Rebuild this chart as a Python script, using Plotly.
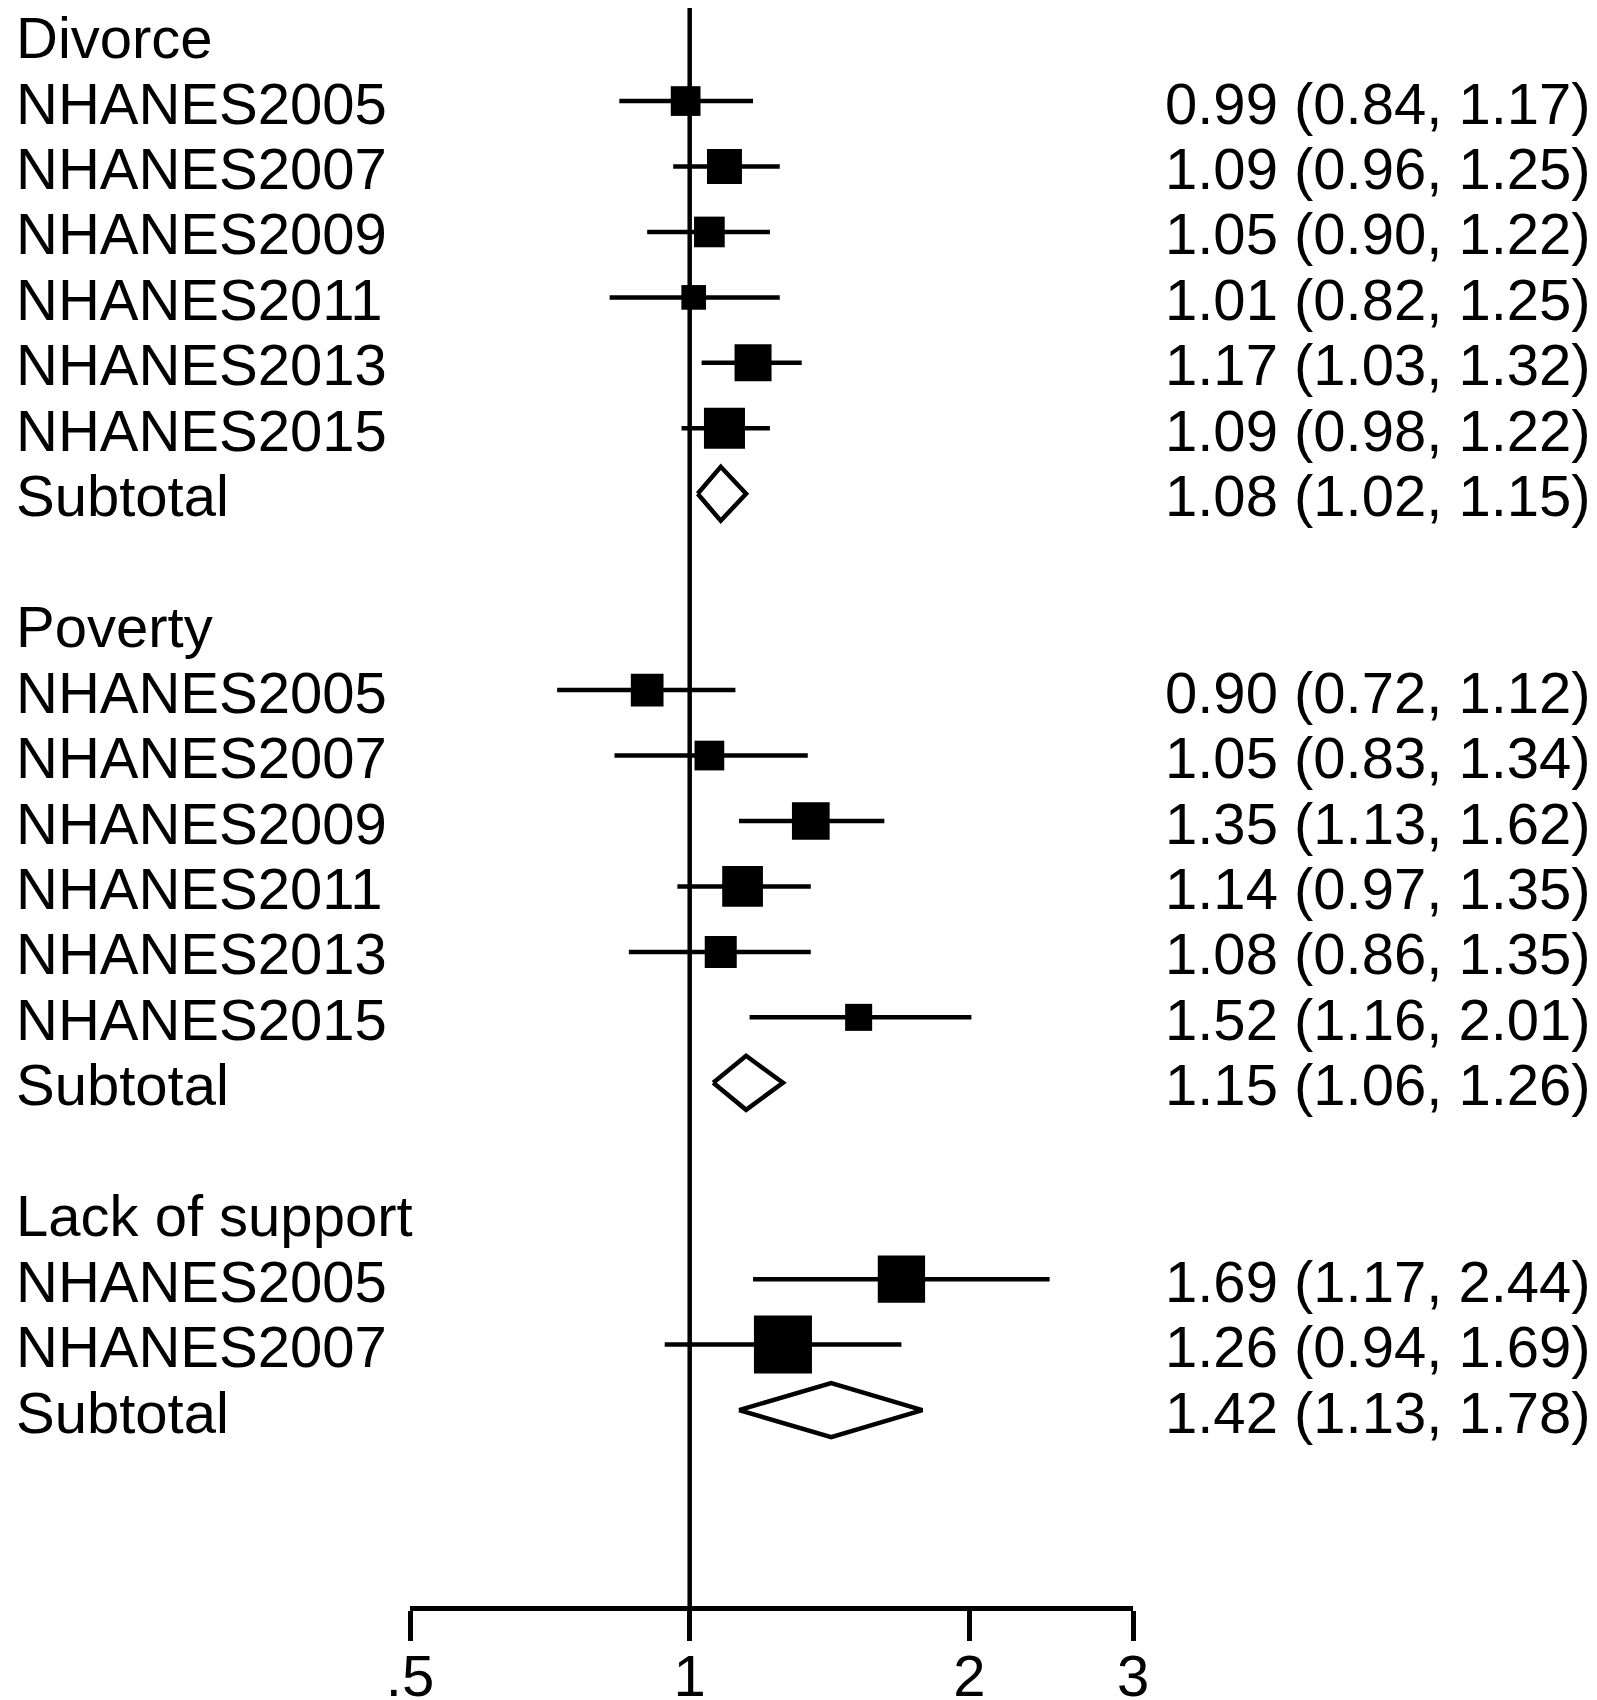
import math
import plotly.graph_objects as go

# ---------------- data ----------------
group_names = ["Divorce", "Poverty", "Lack of support"]

divorce_studies = ["NHANES2005", "NHANES2007", "NHANES2009", "NHANES2011", "NHANES2013", "NHANES2015"]
divorce_or = [0.99, 1.09, 1.05, 1.01, 1.17, 1.09]
divorce_lo = [0.84, 0.96, 0.90, 0.82, 1.03, 0.98]
divorce_hi = [1.17, 1.25, 1.22, 1.25, 1.32, 1.22]
divorce_weight = [13.8, 19.1, 14.7, 9.5, 21.4, 26.3]
divorce_subtotal = [1.08, 1.02, 1.15]

poverty_studies = ["NHANES2005", "NHANES2007", "NHANES2009", "NHANES2011", "NHANES2013", "NHANES2015"]
poverty_or = [0.90, 1.05, 1.35, 1.14, 1.08, 1.52]
poverty_lo = [0.72, 0.83, 1.13, 0.97, 0.86, 1.16]
poverty_hi = [1.12, 1.34, 1.62, 1.35, 1.35, 2.01]
poverty_weight = [16.7, 13.8, 22.2, 25.9, 16.0, 11.4]
poverty_subtotal = [1.15, 1.06, 1.26]

support_studies = ["NHANES2005", "NHANES2007"]
support_or = [1.69, 1.26]
support_lo = [1.17, 0.94]
support_hi = [2.44, 1.69]
support_weight = [35.0, 52.6]
support_subtotal = [1.42, 1.13, 1.78]

null_value = 1
x_tickvals = [0.5, 1, 2, 3]
x_ticktext = [".5", "1", "2", "3"]

groups = [
    (group_names[0], divorce_studies, divorce_or, divorce_lo, divorce_hi, divorce_weight, divorce_subtotal),
    (group_names[1], poverty_studies, poverty_or, poverty_lo, poverty_hi, poverty_weight, poverty_subtotal),
    (group_names[2], support_studies, support_or, support_lo, support_hi, support_weight, support_subtotal),
]

# ---------------- layout constants ----------------
# the page places the figure 8px from its top-left corner, so the figure is 8px smaller
OFF = 8
W, H = 1597 - OFF, 1700 - OFF
FONT = "Liberation Sans, Arial, Helvetica, sans-serif"
FS = 58
LW = 4.5
DIAMOND_HALF = 0.4125
BOX_SCALE = 8.0
L, R = 410 - OFF, 1133.3 - OFF
AXIS_Y = 1606 - OFF
ROW0, ROW_STEP = 35.6 - OFF, 65.45
Y_TOP = (0 - ROW0) / ROW_STEP
Y_BOTTOM = (AXIS_Y - ROW0) / ROW_STEP
TEXT_DY = -2


def fmt(e, l, h):
    return f"{e:.2f} ({l:.2f}, {h:.2f})"


fig = go.Figure()

# reference line at null value
fig.add_trace(go.Scatter(x=[null_value, null_value], y=[Y_TOP, Y_BOTTOM], mode="lines",
                         line=dict(color="black", width=LW), hoverinfo="skip", showlegend=False,
                         cliponaxis=False))

annotations = []
ci_x, ci_y = [], []
box_x, box_y, box_s = [], [], []
row = 0
for name, studies, est, lo, hi, wt, sub in groups:
    annotations.append(dict(text=name, row=row, right=None))
    row += 1
    for s, e, l, h, w in zip(studies, est, lo, hi, wt):
        ci_x += [l, h, None]
        ci_y += [row, row, None]
        box_x.append(e)
        box_y.append(row)
        box_s.append(BOX_SCALE * math.sqrt(w))
        annotations.append(dict(text=s, row=row, right=fmt(e, l, h)))
        row += 1
    e, l, h = sub
    fig.add_trace(go.Scatter(x=[l, e, h, e, l], y=[row, row - DIAMOND_HALF, row, row + DIAMOND_HALF, row],
                             mode="lines", line=dict(color="black", width=LW), fill="toself",
                             fillcolor="white", hoverinfo="skip", showlegend=False))
    annotations.append(dict(text="Subtotal", row=row, right=fmt(e, l, h)))
    row += 2

fig.add_trace(go.Scatter(x=ci_x, y=ci_y, mode="lines", line=dict(color="black", width=LW),
                         hoverinfo="skip", showlegend=False))
fig.add_trace(go.Scatter(x=box_x, y=box_y, mode="markers",
                         marker=dict(symbol="square", size=box_s, color="black", opacity=1,
                                     line=dict(width=0)),
                         hoverinfo="skip", showlegend=False))

ann = []
for a in annotations:
    ann.append(dict(text=a["text"], xref="paper", yref="y", x=0, y=a["row"], xanchor="left",
                    yanchor="middle", xshift=(14 - OFF) - L, yshift=TEXT_DY, showarrow=False,
                    font=dict(family=FONT, size=FS, color="black")))
    if a["right"]:
        ann.append(dict(text=a["right"], xref="paper", yref="y", x=1, y=a["row"], xanchor="right",
                        yanchor="middle", xshift=(1593 - OFF) - R, yshift=TEXT_DY, showarrow=False,
                        font=dict(family=FONT, size=FS, color="black")))

fig.update_layout(
    width=W, height=H,
    margin=dict(l=L, r=W - R, t=0, b=H - AXIS_Y, autoexpand=False),
    paper_bgcolor="white", plot_bgcolor="white",
    showlegend=False,
    annotations=ann,
    xaxis=dict(type="log", range=[math.log10(0.5), math.log10(3)], tickvals=x_tickvals,
               ticktext=x_ticktext, ticks="outside", ticklen=30, tickwidth=LW, tickcolor="black",
               showline=True, linewidth=LW, linecolor="black", showgrid=False, zeroline=False,
               automargin=False, ticklabelstandoff=-14,
               tickfont=dict(family=FONT, size=FS, color="black")),
    yaxis=dict(range=[Y_BOTTOM, Y_TOP], visible=False, showgrid=False, zeroline=False,
               automargin=False),
)

fig.write_html("out.html")
